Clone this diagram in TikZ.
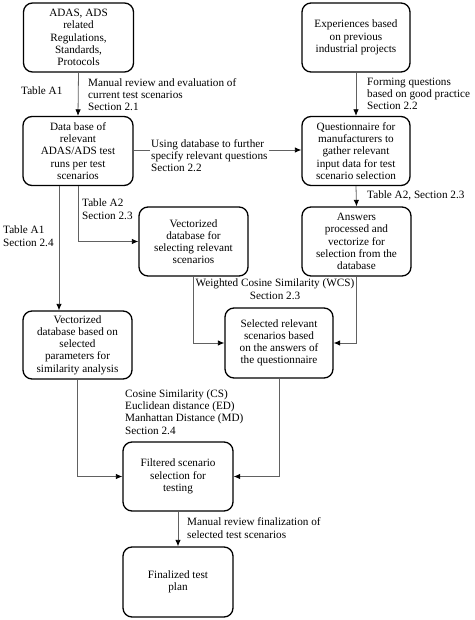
\documentclass[tikz,border=0pt]{standalone}
\usepackage{fontspec}
\setmainfont{Liberation Serif}
\usetikzlibrary{arrows.meta}
\begin{document}
\begin{tikzpicture}[x=1pt,y=-1pt,
  box/.style={draw=black, line width=1.3pt, rounded corners=9pt, minimum width=110pt, minimum height=69pt, align=center, inner sep=2pt, font=\fontsize{11.2}{12.2}\selectfont},
  conn/.style={draw=black!62, line width=0.8pt, -{Latex[length=6.5pt,width=5.5pt,color=black]}},
  lab/.style={anchor=base west, align=left, inner sep=0pt, font=\fontsize{11.2}{12.3}\selectfont}]
\useasboundingbox (0,0) rectangle (474,620);
% boxes
\node[box] (adas) at (78.5,37.5) {ADAS, ADS\\related\\Regulations,\\Standards,\\Protocols};
\node[box, minimum width=108pt] (exp) at (356,37.5) {Experiences based\\on previous\\industrial projects};
\node[box] (db) at (78,151) {Data base of\\relevant\\ADAS/ADS test\\runs per test\\scenarios};
\node[box, minimum width=108pt] (quest) at (356,151) {Questionnaire for\\manufacturers to\\gather relevant\\input data for test\\scenario selection};
\node[box, minimum width=109pt] (ans) at (356.5,241.5) {Answers\\processed and\\vectorize for\\selection from the\\database};
\node[box, minimum width=109pt] (vsel) at (193.5,241.5) {Vectorized\\database for\\selecting relevant\\scenarios};
\node[box, minimum width=109pt, minimum height=68pt] (vsim) at (77.5,345) {Vectorized\\database based on\\selected\\parameters for\\similarity analysis};
\node[box, minimum width=108pt, minimum height=70pt] (selrel) at (279,343) {Selected relevant\\scenarios based\\on the answers of\\the questionnaire};
\node[box] (filt) at (178,476.5) {Filtered scenario\\selection for\\testing};
\node[box, minimum height=70pt] (fin) at (178,582) {Finalized test\\plan};
% connectors
\draw[conn] (adas.south) -- (db.north);
\draw[conn] (db.east |- 0,150) -- (quest.west |- 0,150);
\draw[conn] (exp.south) -- (quest.north);
\draw[conn] (quest.south) -- (ans.north);
\draw[conn] (db.south) |- (vsel.west);
\draw[conn] ([xshift=-19pt]db.south) -- ([xshift=-18.5pt]vsim.north);
\draw[conn] (vsel.south) |- (selrel.west);
\draw[conn] (ans.south) |- (selrel.east);
\draw[conn] (vsim.south) |- (filt.west);
\draw[conn] (selrel.south) |- (filt.east);
\draw[conn] (filt.south) -- (fin.north);
% labels (base = baseline of the last line)
\node[lab] (l1) at (21,95) {Table A1};
\node[lab] (l2) at (88,111) {Manual review and evaluation of\\current test scenarios\\Section 2.1};
\node[lab, fill=white, inner sep=1pt] (l3) at (150,172) {Using database to further\\specify relevant questions\\Section 2.2};
\node[lab] (l4) at (367,110) {Forming questions\\based on good practice\\Section 2.2};
\node[lab] (l5) at (367,199) {Table A2, Section 2.3};
\node[lab] (l6) at (82,219) {Table A2\\Section 2.3};
\node[lab] (l7) at (3,246) {Table A1\\Section 2.4};
\node[anchor=base, align=center, inner sep=0pt, font=\fontsize{11.2}{12.3}\selectfont] (l8) at (275,299) {Weighted Cosine Similarity (WCS)\\Section 2.3};
\node[lab] (l9) at (125,434) {Cosine Similarity (CS)\\Euclidean distance (ED)\\Manhattan Distance (MD)\\Section 2.4};
\node[lab] (l10) at (187,538) {Manual review finalization of\\selected test scenarios};
\end{tikzpicture}
\end{document}
